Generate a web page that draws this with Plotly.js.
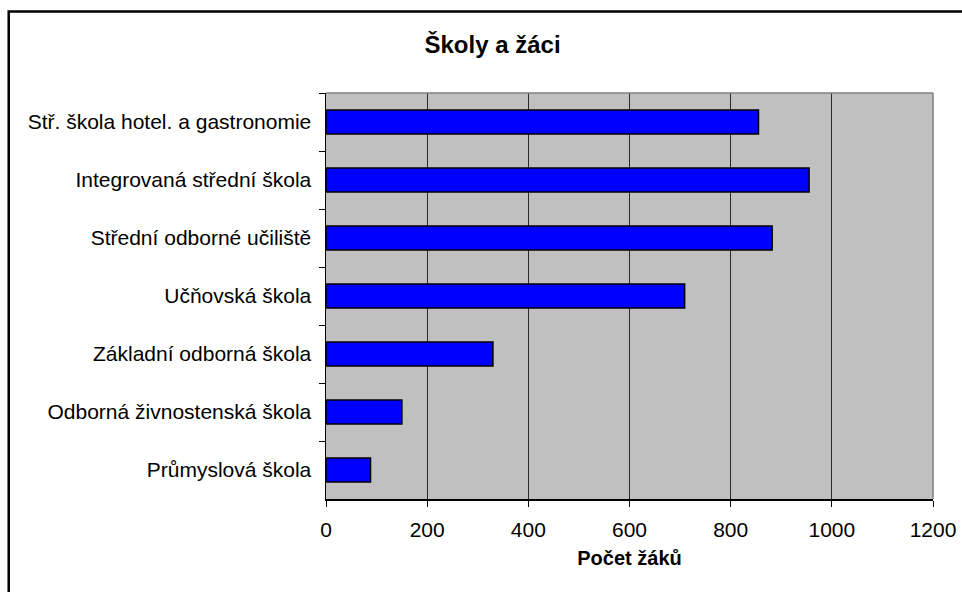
<!DOCTYPE html>
<html>
<head>
<meta charset="utf-8">
<script src="https://cdn.plot.ly/plotly-3.0.1.min.js"></script>
<style>html,body{margin:0;padding:0;background:#fff;}#chart{width:962px;height:592px;}</style>
</head>
<body>
<div id="chart"></div>
<script>
const categories = [
  "Stř. škola hotel. a gastronomie",
  "Integrovaná střední škola",
  "Střední odborné učiliště",
  "Učňovská škola",
  "Základní odborná škola",
  "Odborná živnostenská škola",
  "Průmyslová škola"
];
const pupils = [855, 955, 882, 709, 330, 150, 88];
const xTicks = [0, 200, 400, 600, 800, 1000, 1200];

const FONT = "Liberation Sans, Arial, sans-serif";

const trace = {
  type: "bar",
  orientation: "h",
  y: categories,
  x: pupils,
  marker: { color: "#0000ff", line: { color: "#000000", width: 1.5 } },
  hoverinfo: "x+y"
};

const layout = {
  width: 962,
  height: 592,
  margin: { l: 326, r: 29, t: 93, b: 93 },
  paper_bgcolor: "#ffffff",
  plot_bgcolor: "#c0c0c0",
  showlegend: false,
  bargap: 0.586,
  font: { family: FONT, size: 21, color: "#000" },
  title: {
    text: "<b>Školy a žáci</b>",
    font: { family: FONT, size: 24, color: "#000" },
    xref: "container", x: 0.512, xanchor: "center",
    yref: "container", y: 0.924, yanchor: "middle"
  },
  xaxis: {
    range: [0, 1200],
    tickvals: xTicks,
    ticktext: xTicks.map(String),
    showgrid: true,
    gridcolor: "#2a2a2a",
    gridwidth: 1,
    zeroline: false,
    showline: true,
    linecolor: "#000000",
    linewidth: 1.5,
    ticks: "outside",
    ticklen: 6,
    tickcolor: "#000",
    tickwidth: 1,
    tickfont: { family: FONT, size: 21, color: "#000" },
    ticklabelstandoff: 5,
    title: {
      text: "<b>Počet žáků</b>",
      font: { family: FONT, size: 20, color: "#000" },
      standoff: 11
    },
    fixedrange: true
  },
  yaxis: {
    type: "category",
    autorange: "reversed",
    showgrid: false,
    zeroline: false,
    showline: true,
    linecolor: "#000000",
    linewidth: 1.5,
    ticks: "outside",
    tickson: "boundaries",
    ticklen: 6,
    tickcolor: "#000",
    tickwidth: 1,
    tickfont: { family: FONT, size: 21, color: "#000" },
    ticklabelstandoff: 9,
    fixedrange: true
  },
  shapes: [
    { type: "line", xref: "paper", yref: "paper", x0: 0, x1: 1, y0: 1, y1: 1,
      line: { color: "#808080", width: 1.5 } },
    { type: "line", xref: "paper", yref: "paper", x0: 1, x1: 1, y0: 0, y1: 1,
      line: { color: "#808080", width: 1.5 } },
    { type: "rect", xref: "paper", yref: "paper",
      x0: -0.5227, x1: 2, y0: -1, y1: 1.2005,
      line: { color: "#000000", width: 2.5 }, layer: "below" }
  ]
};

Plotly.newPlot("chart", [trace], layout, { displayModeBar: false, staticPlot: true });
</script>
</body>
</html>
